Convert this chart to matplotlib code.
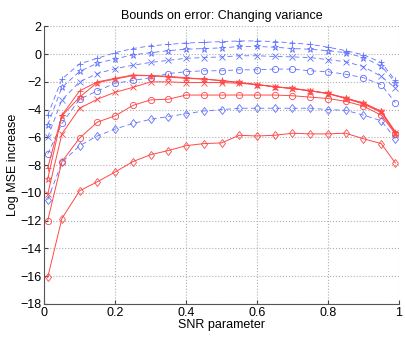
import matplotlib
matplotlib.use("Agg")
import matplotlib.pyplot as plt

plt.rcParams['font.family'] = ['Liberation Sans', 'DejaVu Sans']

snr = [0.01, 0.05, 0.1, 0.15, 0.2, 0.25, 0.3, 0.35, 0.4, 0.45, 0.5,
       0.55, 0.6, 0.65, 0.7, 0.75, 0.8, 0.85, 0.9, 0.95, 0.99]

# blue dashed curves
blue_plus = [-4.4, -1.8, -0.7, -0.3, 0.1, 0.4, 0.6, 0.7, 0.8, 0.85, 0.9,
             0.95, 0.95, 0.9, 0.8, 0.7, 0.5, 0.25, -0.05, -0.6, -1.9]
blue_star = [-5.1, -2.4, -1.25, -0.65, -0.35, -0.05, 0.1, 0.25, 0.35, 0.4, 0.45,
             0.55, 0.55, 0.5, 0.4, 0.35, 0.25, 0.1, -0.25, -0.85, -2.05]
blue_x = [-6.0, -3.3, -2.0, -1.4, -1.05, -0.8, -0.6, -0.45, -0.3, -0.25, -0.2,
          -0.12, -0.12, -0.17, -0.2, -0.25, -0.4, -0.55, -0.9, -1.6, -2.45]
blue_o = [-7.2, -5.0, -3.25, -2.65, -2.1, -1.9, -1.7, -1.4, -1.27, -1.2, -1.2,
          -1.13, -1.13, -1.08, -1.08, -1.2, -1.27, -1.45, -1.7, -2.2, -3.5]
blue_d = [-10.5, -7.8, -6.6, -5.9, -5.4, -5.0, -4.7, -4.5, -4.3, -4.1, -4.0,
          -3.9, -3.9, -3.9, -3.9, -3.9, -4.0, -4.05, -4.4, -4.8, -6.1]

# red solid curves
red_plus = [-8.2, -4.4, -2.65, -2.0, -1.75, -1.5, -1.55, -1.6, -1.7, -1.8, -1.9,
            -2.05, -2.2, -2.35, -2.47, -2.64, -2.83, -3.17, -3.53, -4.12, -5.6]
red_star = [-9.0, -4.45, -3.1, -2.05, -1.8, -1.55, -1.55, -1.65, -1.75, -1.8, -1.92,
            -2.04, -2.2, -2.35, -2.47, -2.64, -2.83, -3.17, -3.53, -4.12, -5.65]
red_x = [-10.1, -5.75, -3.9, -3.25, -2.75, -2.4, -2.0, -2.0, -2.05, -2.05, -2.05,
         -2.1, -2.2, -2.35, -2.5, -2.65, -2.85, -3.2, -3.6, -4.2, -5.7]
red_o = [-12.0, -7.75, -6.05, -4.9, -4.45, -3.7, -3.3, -3.25, -2.95, -2.95, -2.95,
         -2.95, -2.95, -2.95, -3.0, -3.1, -3.2, -3.4, -3.75, -4.4, -5.75]
red_d = [-16.1, -11.85, -9.85, -9.2, -8.5, -7.75, -7.25, -6.95, -6.6, -6.45, -6.4,
         -5.85, -5.9, -5.85, -5.7, -5.75, -5.75, -5.7, -6.1, -6.45, -7.85]

blue = '#6070ff'
red = '#ff4848'

fig = plt.figure(figsize=(4.05, 3.38), dpi=100)
ax = fig.add_axes([0.109, 0.101, 0.876, 0.821])

for ys, m in [(blue_plus, '+'), (blue_star, '*'), (blue_x, 'x'),
              (blue_o, 'o'), (blue_d, 'd')]:
    ax.plot(snr, ys, color=blue, ls=(0, (6, 4)), lw=0.6, marker=m, ms=4.5,
            mfc='none', mew=0.6)

for ys, m in [(red_plus, '+'), (red_star, '*'), (red_x, 'x'),
              (red_o, 'o'), (red_d, 'd')]:
    ax.plot(snr, ys, color=red, lw=0.7, marker=m, ms=4.5,
            mfc='none', mew=0.6)

ax.set_xlim(0, 1)
ax.set_ylim(-18, 2)
ax.set_xticks([0, 0.2, 0.4, 0.6, 0.8, 1])
ax.set_xticklabels(['0', '0.2', '0.4', '0.6', '0.8', '1'])
ax.set_yticks(range(-18, 3, 2))
ax.set_yticklabels([str(v).replace('-', '\u2212') for v in range(-18, 3, 2)])
ax.grid(True, ls=':', color='#b0b0b0', lw=0.8)
ax.tick_params(direction='in', length=3, labelsize=9, color='#444444', pad=2)
for s in ['top', 'right']:
    ax.spines[s].set_visible(False)
for s in ['left', 'bottom']:
    ax.spines[s].set_color('#555555')
    ax.spines[s].set_linewidth(0.8)

ax.set_title('Bounds on error: Changing variance', fontsize=9, pad=5)
ax.set_xlabel('SNR parameter', fontsize=9, labelpad=0)
ax.set_ylabel('Log MSE increase', fontsize=9, labelpad=1)

plt.savefig('out.png', dpi=100)
